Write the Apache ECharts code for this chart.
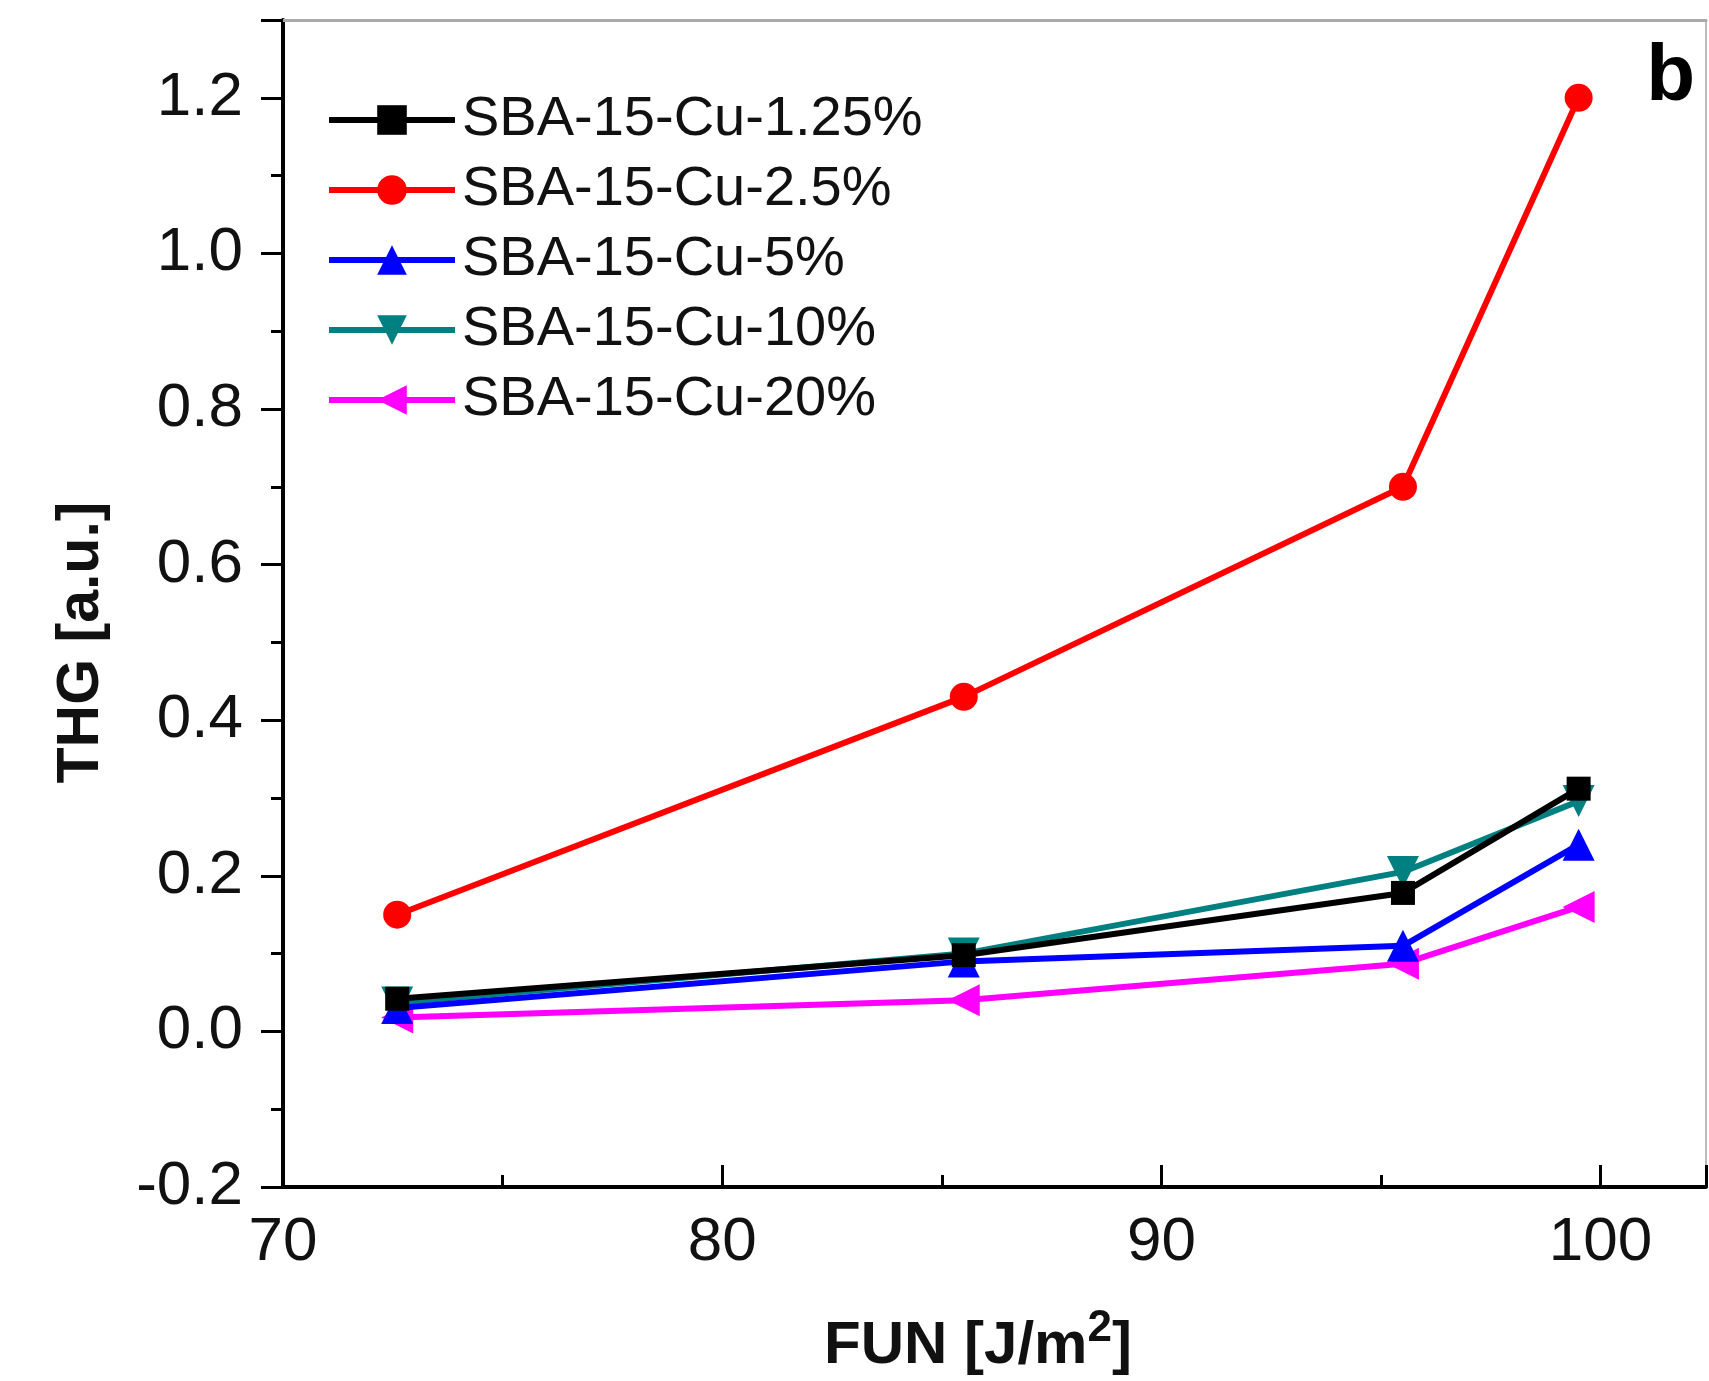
<!DOCTYPE html>
<html>
<head>
<meta charset="utf-8">
<script src="https://cdn.jsdelivr.net/npm/echarts@6/dist/echarts.min.js"></script>
<style>
html,body{margin:0;padding:0;background:#fff;}
#chart{width:1709px;height:1381px;}
</style>
</head>
<body>
<div id="chart"></div>
<script>
const xValues = [72.6, 85.5, 95.5, 99.5];
const seriesNames = ['SBA-15-Cu-1.25%', 'SBA-15-Cu-2.5%', 'SBA-15-Cu-5%', 'SBA-15-Cu-10%', 'SBA-15-Cu-20%'];
const cu125 = [0.042, 0.098, 0.178, 0.312];
const cu25 = [0.15, 0.43, 0.70, 1.20];
const cu5 = [0.030, 0.090, 0.110, 0.240];
const cu10 = [0.037, 0.100, 0.205, 0.296];
const cu20 = [0.018, 0.040, 0.087, 0.160];
const xTicks = [70, 80, 90, 100];
const yTicks = [-0.2, 0.0, 0.2, 0.4, 0.6, 0.8, 1.0, 1.2];

const FONT = '"Liberation Sans", Arial, sans-serif';
const pair = (ys) => xValues.map((x, i) => [x, ys[i]]);

const styles = [
  {color: '#000000', symbol: 'rect', size: 24, rotate: 0},
  {color: '#ff0000', symbol: 'circle', size: 28, rotate: 0},
  {color: '#0000ff', symbol: 'triangle', size: 32, rotate: 0},
  {color: '#008080', symbol: 'triangle', size: 32, rotate: 180},
  {color: '#ff00ff', symbol: 'triangle', size: 32, rotate: 90}
];
const datasets = [cu125, cu25, cu5, cu10, cu20];

const chart = echarts.init(document.getElementById('chart'), null, {renderer: 'canvas'});
const option = {
  backgroundColor: '#ffffff',
  animation: false,
  grid: {left: 283, top: 20, right: 3, bottom: 193, containLabel: false},
  legend: {
    left: 321, top: 86, orient: 'vertical',
    itemWidth: 126, itemHeight: 37, itemGap: 12,
    lineStyle: {width: 6},
    textStyle: {fontFamily: FONT, fontSize: 56, color: '#111', lineHeight: 58, padding: [0, 0, 0, 2]},
    data: seriesNames
  },
  xAxis: [
    {
      type: 'value', position: 'bottom', min: 70, max: 102.4, interval: 10,
      name: 'FUN [J/m{s|2}]', nameLocation: 'middle', nameGap: 120,
      nameTextStyle: {fontFamily: FONT, fontSize: 60, fontWeight: 'bold', color: '#111', padding: [0, 33, 0, 0],
        rich: {s: {fontFamily: FONT, fontSize: 44, fontWeight: 'bold', verticalAlign: 'top', padding: [0, 0, 34, 0]}}},
      axisLine: {show: true, onZero: false, lineStyle: {color: '#000', width: 4}},
      axisTick: {show: true, inside: true, length: 22, lineStyle: {color: '#000', width: 3}},
      axisLabel: {fontFamily: FONT, fontSize: 62, color: '#111', margin: 25,
        formatter: v => (Math.abs(v / 10 - Math.round(v / 10)) < 1e-6 ? String(Math.round(v)) : '')},
      splitLine: {show: false}
    },
    {
      type: 'value', position: 'bottom', min: 70, max: 102.4, interval: 5,
      axisLine: {show: false, onZero: false},
      axisTick: {show: true, inside: true, length: 12, lineStyle: {color: '#000', width: 3}},
      axisLabel: {show: false}, splitLine: {show: false}
    },
    {
      type: 'value', position: 'top', min: 70, max: 102.4,
      axisLine: {show: true, onZero: false, lineStyle: {color: '#aaaaaa', width: 3}},
      axisTick: {show: false}, axisLabel: {show: false}, splitLine: {show: false}
    }
  ],
  yAxis: [
    {
      type: 'value', position: 'left', min: -0.2, max: 1.3, interval: 0.2,
      name: 'THG [a.u.]', nameLocation: 'middle', nameGap: 172, nameRotate: 90,
      nameTextStyle: {fontFamily: FONT, fontSize: 59, fontWeight: 'bold', color: '#111', padding: [0, 78, 0, 0]},
      axisLine: {show: true, onZero: false, lineStyle: {color: '#000', width: 4}},
      axisTick: {show: true, inside: false, length: 22, lineStyle: {color: '#000', width: 3}},
      axisLabel: {fontFamily: FONT, fontSize: 62, color: '#111', margin: 40,
        formatter: v => (Math.abs(v * 5 - Math.round(v * 5)) < 1e-6 ? v.toFixed(1) : '')},
      splitLine: {show: false}
    },
    {
      type: 'value', position: 'left', min: -0.2, max: 1.3, interval: 0.1,
      axisLine: {show: false, onZero: false},
      axisTick: {show: true, inside: false, length: 12, lineStyle: {color: '#000', width: 3}},
      axisLabel: {show: false}, splitLine: {show: false}
    },
    {
      type: 'value', position: 'right', min: -0.2, max: 1.3,
      axisLine: {show: true, onZero: false, lineStyle: {color: '#bbbbbb', width: 2}},
      axisTick: {show: false}, axisLabel: {show: false}, splitLine: {show: false}
    }
  ],
  graphic: [
    {type: 'text', right: 14, top: 38, style: {text: 'b', fontFamily: FONT, fontSize: 80, fontWeight: 'bold', fill: '#000'}}
  ],
  series: datasets.map((d, i) => ({
    name: seriesNames[i], type: 'line', xAxisIndex: 0, yAxisIndex: 0,
    data: pair(d),
    symbol: styles[i].symbol, symbolSize: styles[i].size, symbolRotate: styles[i].rotate,
    showAllSymbol: true,
    lineStyle: {color: styles[i].color, width: 6},
    itemStyle: {color: styles[i].color},
    z: 10 - i
  }))
};
chart.setOption(option);
</script>
</body>
</html>
